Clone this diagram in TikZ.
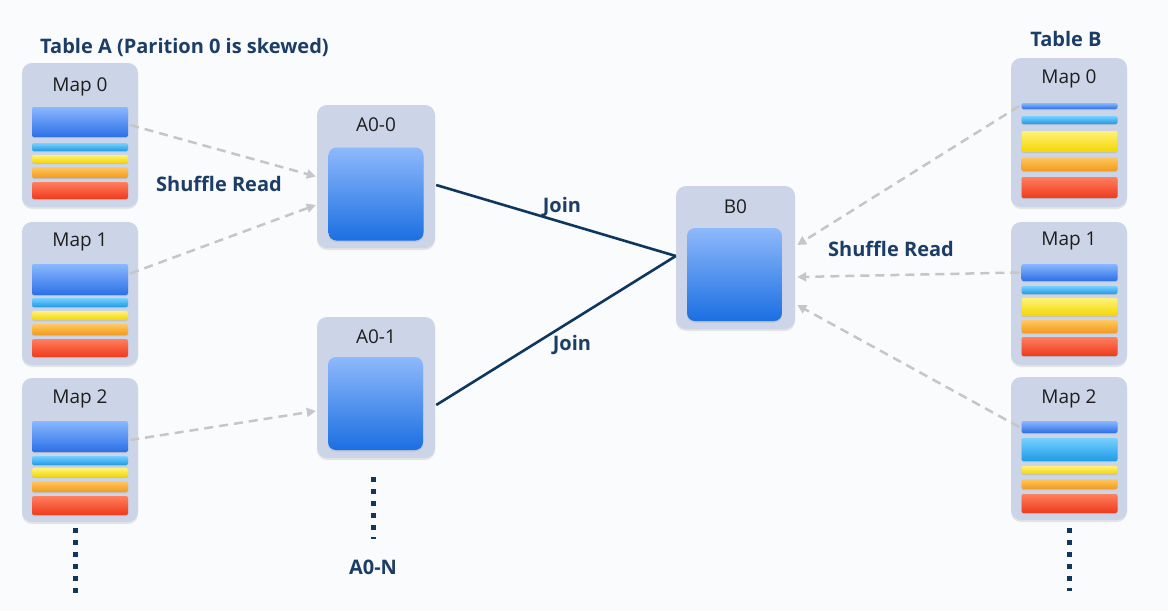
\documentclass[tikz,border=0pt]{standalone}
\usepackage{fontspec}
\setmainfont{Open Sans}
\usetikzlibrary{shadows,arrows.meta,calc}
\definecolor{bg}{HTML}{FAFBFC}
\definecolor{boxfill}{HTML}{CCD4E7}
\definecolor{navy}{HTML}{1C3D66}
\definecolor{joinc}{HTML}{0E3760}
\definecolor{dotc}{HTML}{12365E}
\definecolor{dashc}{HTML}{C6C6C8}
\definecolor{lbl}{HTML}{1E1E1E}
\definecolor{c8EB9FB}{HTML}{8EB9FB}\definecolor{c1B6FE2}{HTML}{1B6FE2}
\definecolor{c8AB8FF}{HTML}{8AB8FF}\definecolor{c2C6FE6}{HTML}{2C6FE6}
\definecolor{c78D0FF}{HTML}{78D0FF}\definecolor{c1E9BE6}{HTML}{1E9BE6}
\definecolor{cFFF27A}{HTML}{FFF27A}\definecolor{cF3D600}{HTML}{F3D600}
\definecolor{cFFC860}{HTML}{FFC860}\definecolor{cF39A1E}{HTML}{F39A1E}
\definecolor{cFF7F5E}{HTML}{FF7F5E}\definecolor{cEE3A1C}{HTML}{EE3A1C}
\newcommand\strp[5]{\node[stripe,#5,minimum height={#4-#3}] (#1) at (#2,{(#3+#4)/2}) {};}
\begin{document}
\begin{tikzpicture}[x=1pt,y=-1pt,
  mapbox/.style={fill=boxfill,draw=none,rounded corners=10pt,inner sep=0pt,minimum width=116pt,
    drop shadow={opacity=0.18,shadow xshift=0pt,shadow yshift=-2pt}},
  midbox/.style={mapbox,minimum width=118pt,minimum height=143pt},
  stripe/.style={draw=none,rounded corners=2pt,inner sep=0pt,minimum width=96pt,
    drop shadow={opacity=0.22,shadow xshift=0pt,shadow yshift=-1pt}},
  inner/.style={draw=none,rounded corners=8pt,inner sep=0pt,minimum width=95pt,minimum height=93pt,
    top color=c8EB9FB,bottom color=c1B6FE2,
    drop shadow={opacity=0.2,shadow xshift=0pt,shadow yshift=-1.5pt}},
  sblue/.style={top color=c8AB8FF,bottom color=c2C6FE6},
  slb/.style={top color=c78D0FF,bottom color=c1E9BE6},
  sye/.style={top color=cFFF27A,bottom color=cF3D600},
  sor/.style={top color=cFFC860,bottom color=cF39A1E},
  sre/.style={top color=cFF7F5E,bottom color=cEE3A1C},
  boxlabel/.style={text=lbl,font=\fontsize{19}{22}\selectfont,inner sep=0pt},
  bluelabel/.style={text=navy,font=\fontsize{20}{24}\selectfont\bfseries,inner sep=0pt},
  shuf/.style={draw=dashc,line width=2.5pt,dash pattern=on 9pt off 6pt,
    -{Triangle[length=9pt,width=9pt,fill=dashc]}},
  joinline/.style={draw=joinc,line width=2.6pt},
  dots/.style={draw=dotc,line width=5pt,dash pattern=on 5pt off 7pt}
]
\useasboundingbox[fill=bg] (0,0) rectangle (1168,611);

% ---------- Table A ----------
\node[bluelabel,anchor=west] (ta) at (40,47) {Table A (Parition 0 is skewed)};

\node[mapbox,minimum height=144pt] (m0) at (80,135) {};
\node[boxlabel] (m0l) at (80,87) {Map 0};
\strp{a0s1}{80}{107}{137}{sblue}
\strp{a0s2}{80}{143}{151}{slb}
\strp{a0s3}{80}{155}{163}{sye}
\strp{a0s4}{80}{167}{178}{sor}
\strp{a0s5}{80}{182}{199}{sre}

\node[mapbox,minimum height=143pt] (m1) at (80,293.5) {};
\node[boxlabel] (m1l) at (80,242) {Map 1};
\strp{a1s1}{80}{264}{295}{sblue}
\strp{a1s2}{80}{298}{307}{slb}
\strp{a1s3}{80}{311}{320}{sye}
\strp{a1s4}{80}{324}{335}{sor}
\strp{a1s5}{80}{339}{357}{sre}

\node[mapbox,minimum height=144pt] (m2) at (80,450) {};
\node[boxlabel] (m2l) at (80,399) {Map 2};
\strp{a2s1}{80}{421}{452}{sblue}
\strp{a2s2}{80}{456}{465}{slb}
\strp{a2s3}{80}{468}{477}{sye}
\strp{a2s4}{80}{481}{492}{sor}
\strp{a2s5}{80}{496}{515}{sre}

% ---------- A0 partitions ----------
\node[midbox] (a00) at (376,176.5) {};
\node[boxlabel] (a00l) at (376,125) {A0-0};
\node[inner] (a00i) at (376,194) {};

\node[midbox,minimum height=141pt] (a01) at (376,387.5) {};
\node[boxlabel] (a01l) at (376,337) {A0-1};
\node[inner] (a01i) at (375.5,403.5) {};

\node[bluelabel] (a0n) at (373,567) {A0-N};

% ---------- B0 ----------
\node[midbox,minimum width=119pt] (b0) at (735.5,257.5) {};
\node[boxlabel] (b0l) at (735.5,207) {B0};
\node[inner] (b0i) at (734.5,274.5) {};

% ---------- Table B ----------
\node[bluelabel] (tb) at (1066,39) {Table B};

\node[mapbox,minimum height=149pt] (n0) at (1069,132.5) {};
\node[boxlabel] (n0l) at (1069,79) {Map 0};
\strp{b0s1}{1069.5}{103}{109}{sblue}
\strp{b0s2}{1069.5}{116}{124}{slb}
\strp{b0s3}{1069.5}{131}{152}{sye}
\strp{b0s4}{1069.5}{157}{171}{sor}
\strp{b0s5}{1069.5}{177}{198}{sre}

\node[mapbox,minimum height=143pt] (n1) at (1069,293.5) {};
\node[boxlabel] (n1l) at (1069,241) {Map 1};
\strp{b1s1}{1069.5}{264}{281}{sblue}
\strp{b1s2}{1069.5}{286}{294}{slb}
\strp{b1s3}{1069.5}{298}{316}{sye}
\strp{b1s4}{1069.5}{320}{333}{sor}
\strp{b1s5}{1069.5}{337}{356}{sre}

\node[mapbox,minimum height=143pt] (n2) at (1069,448.5) {};
\node[boxlabel] (n2l) at (1069,399) {Map 2};
\strp{b2s1}{1069.5}{421}{433}{sblue}
\strp{b2s2}{1069.5}{438}{461}{slb}
\strp{b2s3}{1069.5}{466}{474}{sye}
\strp{b2s4}{1069.5}{479}{489}{sor}
\strp{b2s5}{1069.5}{494}{513}{sre}

% ---------- labels ----------
\node[bluelabel] (sr1) at (219,184) {Shuffle Read};
\node[bluelabel] (sr2) at (891,249) {Shuffle Read};
\node[bluelabel] (j1) at (562,207) {Join};
\node[bluelabel] (j2) at (572,345) {Join};

% ---------- shuffle reads ----------
\draw[shuf] ([xshift=2pt,yshift=-3pt]a0s1.east) -- ([xshift=-1pt]a00.west);
\draw[shuf] ([xshift=2pt,yshift=6pt]a1s1.east) -- ([xshift=-1pt,yshift=-28.5pt]a00.west);
\draw[shuf] ([xshift=2pt,yshift=-3.5pt]a2s1.east) -- ([xshift=-1pt,yshift=-23.5pt]a01.west);

\draw[shuf] ([xshift=-2pt]b0s1.west) -- ([xshift=2pt,yshift=12.5pt]b0.east);
\draw[shuf] ([xshift=-2pt]b1s1.west) -- ([xshift=2pt,yshift=-19.5pt]b0.east);
\draw[shuf] ([xshift=-2pt]b2s1.west) -- ([xshift=2pt,yshift=-47.5pt]b0.east);

% ---------- joins ----------
\draw[joinline] ([xshift=1pt,yshift=-8.5pt]a00.east) -- ([yshift=1.5pt]b0.west);
\draw[joinline] ([xshift=1pt,yshift=-17.5pt]a01.east) -- ([yshift=1.5pt]b0.west);

% ---------- continuation dots ----------
\draw[dots] ([xshift=-5pt,yshift=-6pt]m2.south) -- ++(0,66);
\draw[dots] ([xshift=-3pt,yshift=-19pt]a01.south) -- ++(0,62);
\draw[dots] ([yshift=-8pt]n2.south) -- ++(0,63);
\end{tikzpicture}
\end{document}
